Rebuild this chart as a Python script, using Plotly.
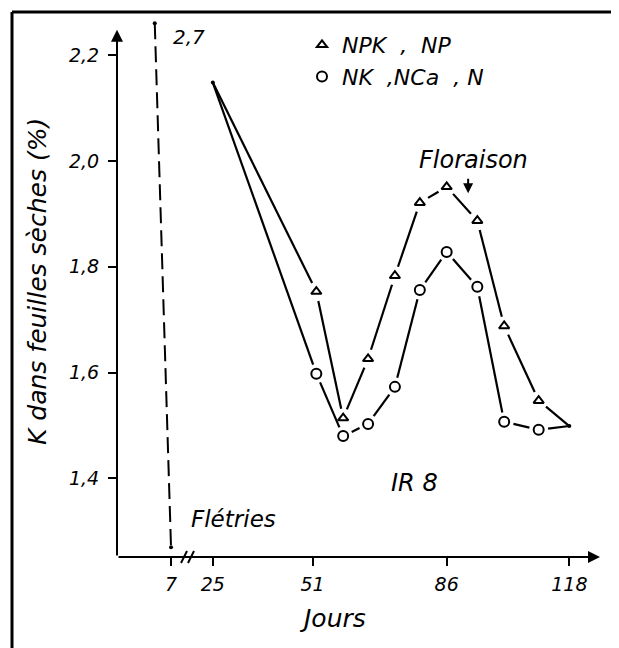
import math
import plotly.graph_objects as go

# ---------------- data ----------------
days = [25, 52, 59, 65.5, 72.5, 79, 86, 94, 101, 110, 118]
k_npk = [2.148, 1.753, 1.514, 1.626, 1.783, 1.921, 1.951, 1.887, 1.688, 1.547, 1.499]
k_nk = [2.148, 1.598, 1.480, 1.503, 1.573, 1.756, 1.828, 1.762, 1.507, 1.492, 1.499]

# wilted plants (Flétries): value 2,7 at the start, drawn cut at the top of the frame
wilted_days = [0, 7]
wilted_k = [2.26, 1.27]

x_tick_days = [7, 25, 51, 86, 118]
x_tick_text = ["7", "25", "51", "86", "118"]
y_tick_vals = [1.4, 1.6, 1.8, 2.0, 2.2]
y_tick_text = ["1,4", "1,6", "1,8", "2,0", "2,2"]

floraison_day = 91.6
floraison_k = 1.939

# ---------------- helpers ----------------
BREAK = 25
SQUEEZE = 0.606  # axis break: days before 25 are compressed


def brk(d):
    return d if d >= BREAK else BREAK - (BREAK - d) * SQUEEZE


OFF = 8  # page body margin of the html page
X0, X1 = 0, 126
Y0, Y1 = 1.2515, 2.2625
W, H = 619, 648
L, T = 117 - OFF, 22 - OFF
R = W - (600 - OFF)
B = H - (557 - OFF)
PW, PH = W - L - R, H - T - B
SX = PW / (X1 - X0)  # px per x unit
SY = PH / (Y1 - Y0)  # px per y unit


def px(xp, yp):
    """page pixel position -> paper coords"""
    return (xp - OFF - L) / PW, (H - B - (yp - OFF)) / PH


def gapped(xs, ys, gap=9.0):
    """segments between consecutive points, cut short near the open markers"""
    ox, oy = [], []
    n = len(xs)
    for i in range(n - 1):
        xa, ya, xb, yb = xs[i], ys[i], xs[i + 1], ys[i + 1]
        dx, dy = (xb - xa) * SX, (yb - ya) * SY
        ln = math.hypot(dx, dy)
        g0 = gap if i > 0 else 0.0
        g1 = gap if i + 1 < n - 1 else 0.0
        if ln <= g0 + g1:
            continue
        t0, t1 = g0 / ln, 1 - g1 / ln
        ox += [xa + (xb - xa) * t0, xa + (xb - xa) * t1, None]
        oy += [ya + (yb - ya) * t0, ya + (yb - ya) * t1, None]
    return ox, oy


FONT = "DejaVu Sans"
BLACK = "black"

fig = go.Figure()

x_npk = [brk(d) for d in days]
x_nk = [brk(d) for d in days]

# connecting lines (with small gaps at the markers)
for xs, ys, g in ((x_npk, k_npk, 9.5), (x_nk, k_nk, 9.5)):
    gx, gy = gapped(xs, ys, g)
    fig.add_trace(go.Scatter(x=gx, y=gy, mode="lines",
                             line=dict(color=BLACK, width=2.2),
                             connectgaps=False,
                             showlegend=False, hoverinfo="skip"))

# open markers (also the legend entries)
fig.add_trace(go.Scatter(x=x_npk[1:-1], y=k_npk[1:-1], mode="markers",
                         name="NPK\u00a0\u00a0,\u00a0\u00a0NP",
                         marker=dict(symbol="triangle-up-open", size=9, color=BLACK,
                                     line=dict(width=2, color=BLACK))))
fig.add_trace(go.Scatter(x=x_nk[1:-1], y=k_nk[1:-1], mode="markers",
                         name="NK\u00a0\u00a0,NCa\u00a0\u00a0,\u00a0N",
                         marker=dict(symbol="circle-open", size=10, color=BLACK,
                                     line=dict(width=2, color=BLACK))))

# common start / end dots
fig.add_trace(go.Scatter(x=[x_npk[0], x_npk[-1]], y=[k_npk[0], k_npk[-1]],
                         mode="markers", marker=dict(size=4, color=BLACK),
                         showlegend=False, hoverinfo="skip"))

# wilted plants: dashed line
fig.add_trace(go.Scatter(x=[brk(d) for d in wilted_days], y=wilted_k,
                         mode="lines+markers",
                         line=dict(color=BLACK, width=2, dash="16px,7px"),
                         marker=dict(size=4, color=BLACK),
                         showlegend=False, hoverinfo="skip", cliponaxis=False))

annotations = []
# axes with arrows
annotations.append(dict(x=0, y=2.248, ax=0, ay=Y0, xref="x", yref="y",
                        axref="x", ayref="y", showarrow=True, arrowhead=2,
                        arrowsize=1.2, arrowwidth=2, arrowcolor=BLACK, text=""))
annotations.append(dict(x=X1, y=Y0, ax=0, ay=Y0, xref="x", yref="y",
                        axref="x", ayref="y", showarrow=True, arrowhead=2,
                        arrowsize=1.2, arrowwidth=2, arrowcolor=BLACK, text=""))
# floraison arrow
annotations.append(dict(x=brk(floraison_day), y=floraison_k, xref="x", yref="y",
                        ax=0, ay=-16, showarrow=True, arrowhead=2, arrowsize=1,
                        arrowwidth=2, arrowcolor=BLACK, text=""))


def label(text, xp, yp, size, angle=0):
    xx, yy = px(xp, yp)
    annotations.append(dict(x=xx, y=yy, xref="paper", yref="paper", text=text,
                            showarrow=False, xanchor="center", yanchor="middle",
                            textangle=angle,
                            font=dict(family=FONT, size=size, color=BLACK,
                                      style="italic")))


label("2,7", 189, 37, 20)
label("Floraison", 473, 160, 24)
label("IR\u00a08", 414, 483, 24)
label("Flétries", 233, 519, 23)
label("Jours", 332, 618, 25)
label("K dans feuilles sèches (%)", 37, 282, 25, angle=-90)

# frame (top and left edges) and axis-break marks
fx0, fy0 = px(12, 12)
fx1, fy1 = px(640, 680)
shapes = [
    dict(type="line", xref="paper", yref="paper", x0=fx0, y0=fy0, x1=fx1, y1=fy0,
         line=dict(color=BLACK, width=3)),
    dict(type="line", xref="paper", yref="paper", x0=fx0, y0=fy0, x1=fx0, y1=fy1,
         line=dict(color=BLACK, width=3)),
]
for cx in (184, 191):
    a0, b0 = px(cx - 3, 563)
    a1, b1 = px(cx + 3, 551)
    shapes.append(dict(type="line", xref="paper", yref="paper", x0=a0, y0=b0,
                       x1=a1, y1=b1, line=dict(color=BLACK, width=2)))

lx, ly = px(302, 24)

fig.update_layout(
    width=W, height=H, autosize=False,
    margin=dict(l=L, r=R, t=T, b=B, pad=0),
    paper_bgcolor="white", plot_bgcolor="white",
    font=dict(family=FONT, size=19, color=BLACK, style="italic"),
    showlegend=True,
    legend=dict(x=lx, y=ly, xanchor="left", yanchor="top",
                bgcolor="rgba(0,0,0,0)", borderwidth=0,
                font=dict(family=FONT, size=22, color=BLACK, style="italic"),
                tracegroupgap=0, itemwidth=30),
    annotations=annotations,
    shapes=shapes,
    xaxis=dict(range=[X0, X1], showgrid=False, zeroline=False, showline=False,
               tickmode="array", tickvals=[brk(d) for d in x_tick_days],
               ticktext=x_tick_text, ticks="outside", ticklen=8, tickwidth=2,
               tickcolor=BLACK, ticklabelstandoff=2,
               tickfont=dict(family=FONT, size=19, color=BLACK, style="italic")),
    yaxis=dict(range=[Y0, Y1], showgrid=False, zeroline=False, showline=False,
               tickmode="array", tickvals=y_tick_vals, ticktext=y_tick_text,
               ticks="outside", ticklen=8, tickwidth=2, tickcolor=BLACK,
               ticklabelstandoff=5,
               tickfont=dict(family=FONT, size=19, color=BLACK, style="italic")),
)

fig.write_html("out.html")
